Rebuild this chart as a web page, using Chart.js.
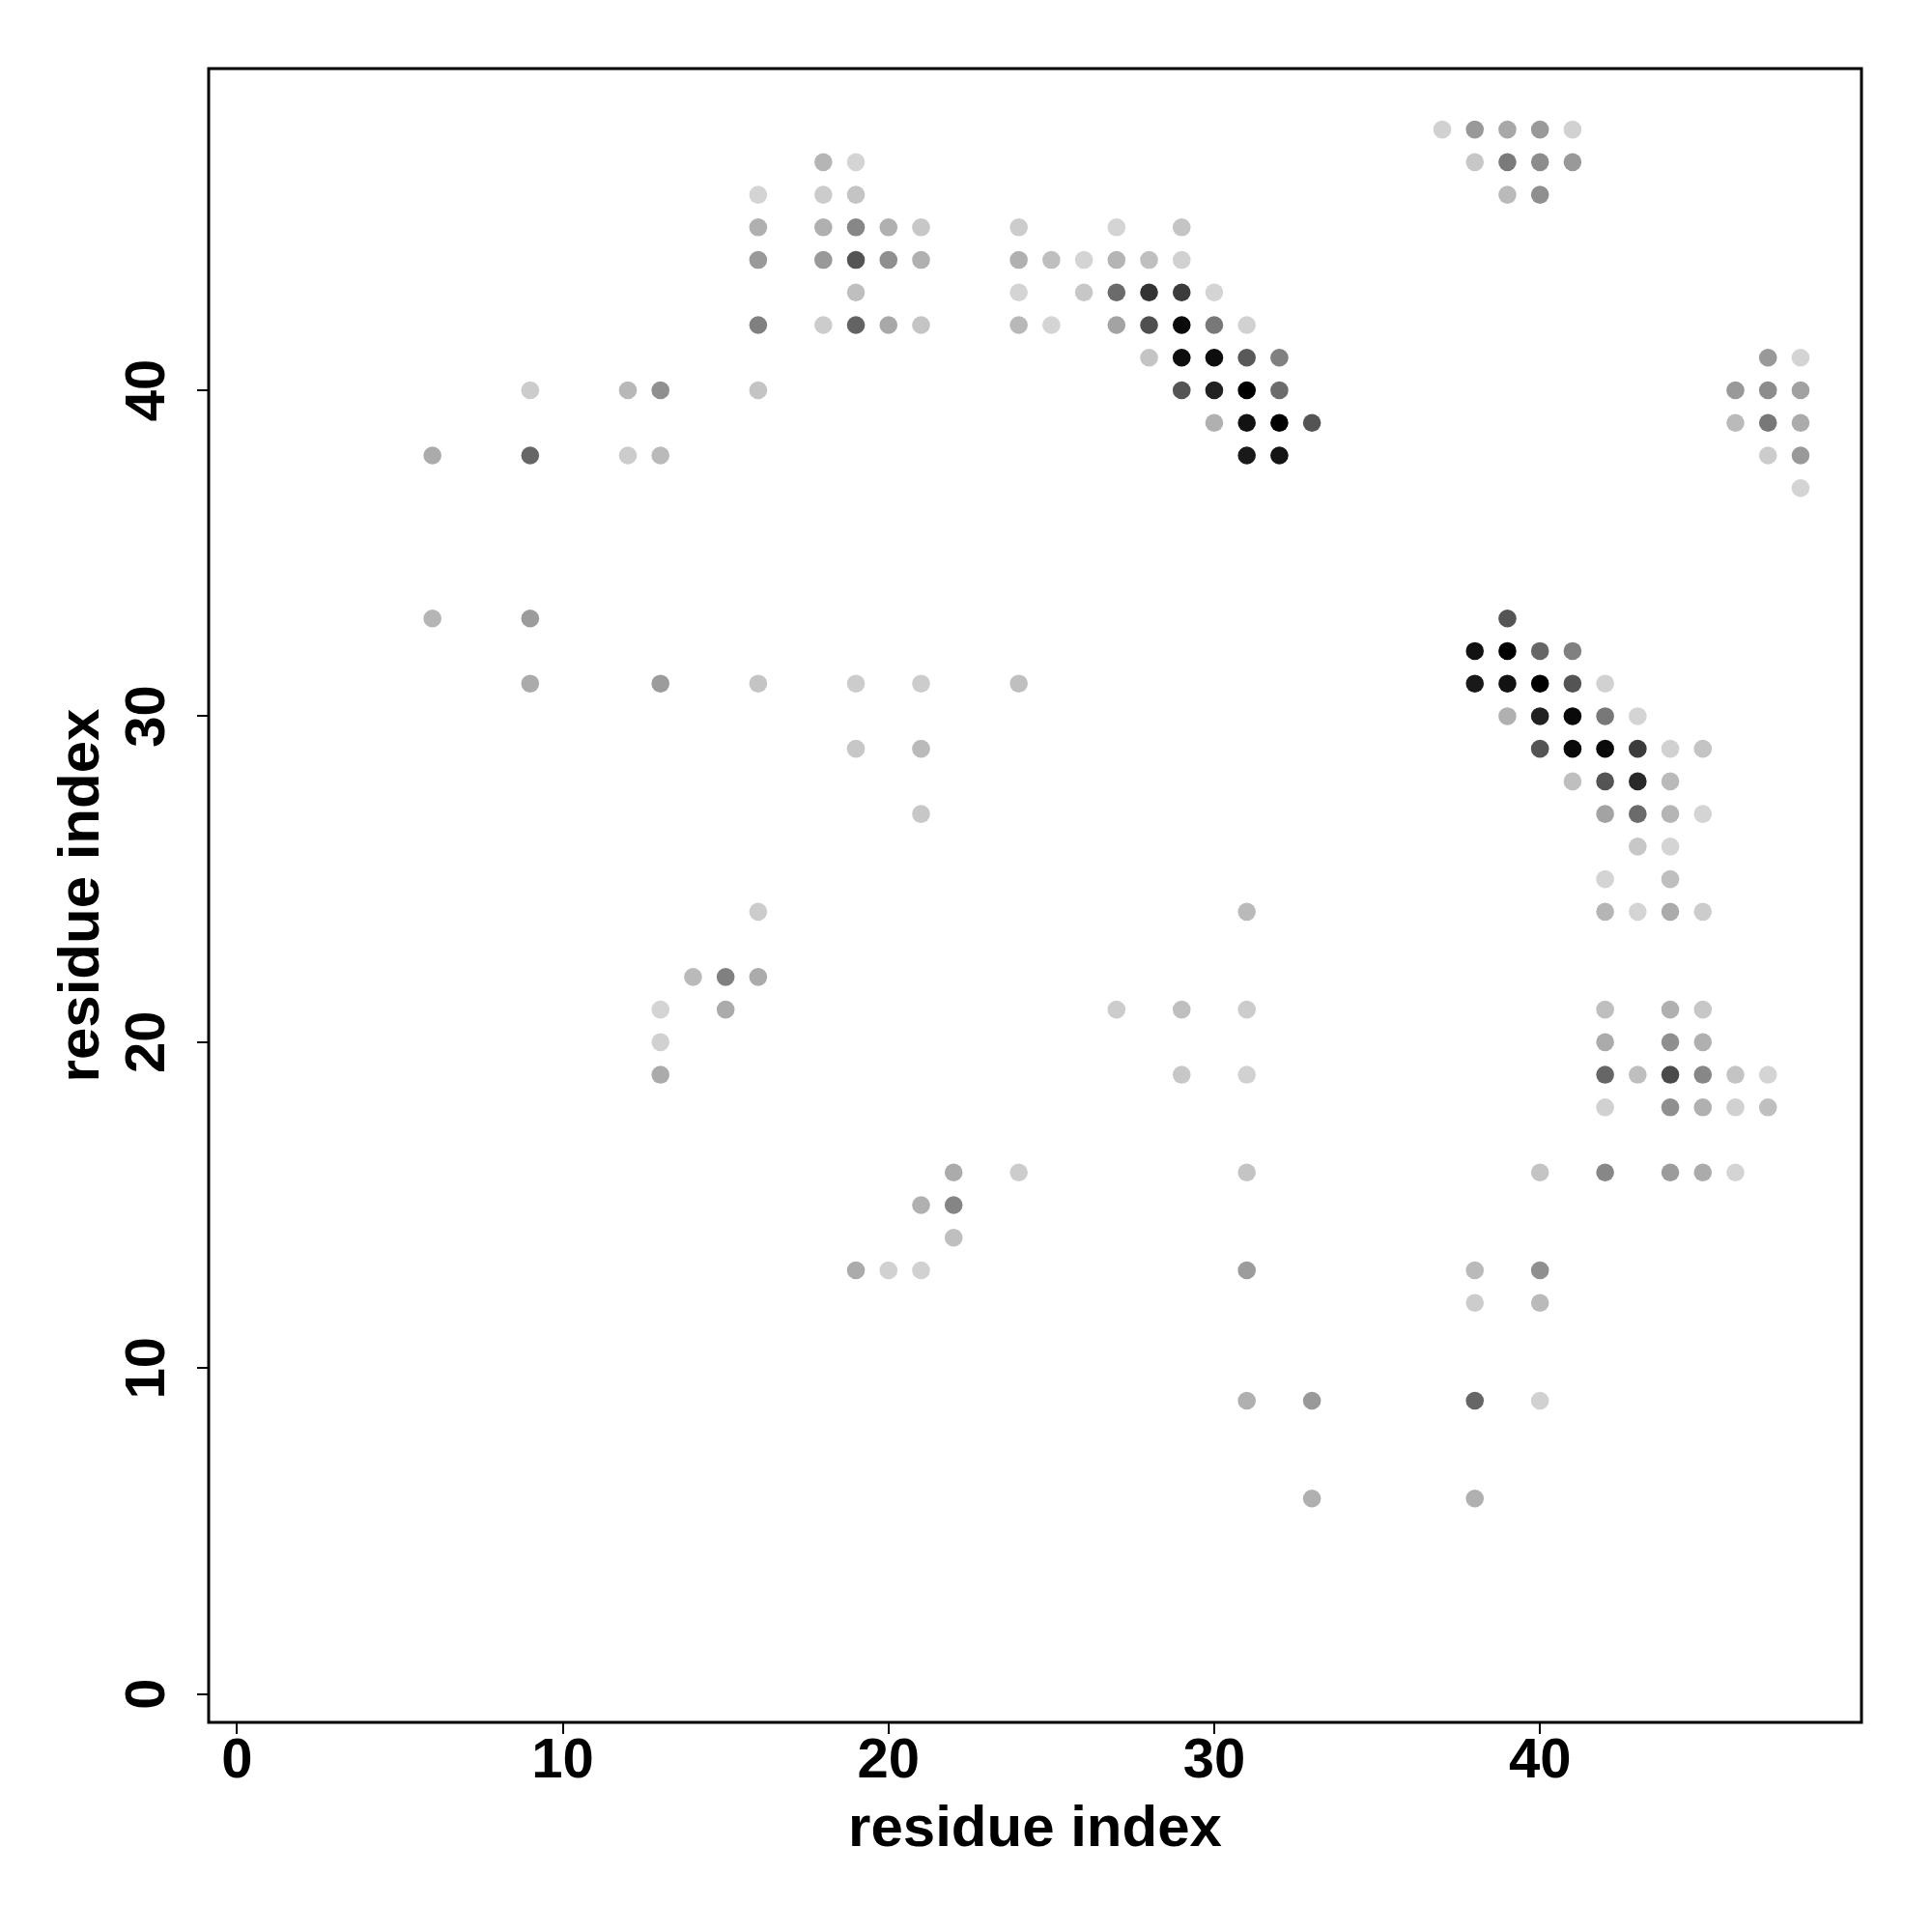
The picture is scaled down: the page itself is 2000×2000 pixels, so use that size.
<!DOCTYPE html>
<html>
<head>
<meta charset="utf-8">
<title>contact map</title>
<script src="https://cdn.jsdelivr.net/npm/chart.js@4.4.1/dist/chart.umd.min.js"></script>
<style>
    html, body { margin: 0; padding: 0; background: #fff; }
</style>
</head>
<body>
<canvas id="contactMap" width="2000" height="2000"></canvas>
<script>
// residue j (y) for each row, residues i (x) in that row, and contact probability of each dot
const rowResidue = [48, 47, 46, 45, 44, 43, 42, 41, 40, 39, 38, 37, 33, 32, 31, 30, 29, 28, 27, 26, 25, 24, 22, 21, 20, 19, 18, 16, 15, 14, 13, 12, 9, 6];

const rowPartners = [
    [37, 38, 39, 40, 41],
    [18, 19, 38, 39, 40, 41],
    [16, 18, 19, 39, 40],
    [16, 18, 19, 20, 21, 24, 27, 29],
    [16, 18, 19, 20, 21, 24, 25, 26, 27, 28, 29],
    [19, 24, 26, 27, 28, 29, 30],
    [16, 18, 19, 20, 21, 24, 25, 27, 28, 29, 30, 31],
    [28, 29, 30, 31, 32, 47, 48],
    [9, 12, 13, 16, 29, 30, 31, 32, 46, 47, 48],
    [30, 31, 32, 33, 46, 47, 48],
    [6, 9, 12, 13, 31, 32, 47, 48],
    [48],
    [6, 9, 39],
    [38, 39, 40, 41],
    [9, 13, 16, 19, 21, 24, 38, 39, 40, 41, 42],
    [39, 40, 41, 42, 43],
    [19, 21, 40, 41, 42, 43, 44, 45],
    [41, 42, 43, 44],
    [21, 42, 43, 44, 45],
    [43, 44],
    [42, 44],
    [16, 31, 42, 43, 44, 45],
    [14, 15, 16],
    [13, 15, 27, 29, 31, 42, 44, 45],
    [13, 42, 44, 45],
    [13, 29, 31, 42, 43, 44, 45, 46, 47],
    [42, 44, 45, 46, 47],
    [22, 24, 31, 40, 42, 44, 45, 46],
    [21, 22],
    [22],
    [19, 20, 21, 31, 38, 40],
    [38, 40],
    [31, 33, 38, 40],
    [33, 38]
];

const rowProb = [
    [0.18, 0.40, 0.34, 0.40, 0.18],
    [0.29, 0.17, 0.22, 0.52, 0.45, 0.40],
    [0.17, 0.20, 0.23, 0.27, 0.44],
    [0.31, 0.31, 0.47, 0.31, 0.22, 0.20, 0.17, 0.23],
    [0.40, 0.40, 0.67, 0.44, 0.31, 0.31, 0.25, 0.17, 0.29, 0.25, 0.18],
    [0.25, 0.17, 0.22, 0.58, 0.80, 0.77, 0.17],
    [0.50, 0.20, 0.61, 0.34, 0.23, 0.28, 0.17, 0.36, 0.69, 0.96, 0.53, 0.18],
    [0.23, 0.95, 0.95, 0.65, 0.50, 0.40, 0.17],
    [0.20, 0.28, 0.44, 0.23, 0.67, 0.87, 1.00, 0.58, 0.40, 0.45, 0.37],
    [0.31, 0.93, 1.00, 0.67, 0.27, 0.53, 0.33],
    [0.33, 0.60, 0.20, 0.27, 0.90, 0.92, 0.20, 0.40],
    [0.17],
    [0.29, 0.39, 0.67],
    [0.93, 1.00, 0.60, 0.50],
    [0.33, 0.39, 0.23, 0.20, 0.20, 0.25, 0.90, 0.93, 1.00, 0.67, 0.18],
    [0.31, 0.87, 0.96, 0.53, 0.17],
    [0.22, 0.27, 0.67, 0.96, 0.96, 0.77, 0.18, 0.23],
    [0.25, 0.67, 0.84, 0.27],
    [0.22, 0.36, 0.58, 0.29, 0.17],
    [0.22, 0.17],
    [0.17, 0.25],
    [0.20, 0.27, 0.29, 0.17, 0.33, 0.20],
    [0.27, 0.50, 0.33],
    [0.17, 0.33, 0.20, 0.25, 0.20, 0.25, 0.31, 0.22],
    [0.18, 0.33, 0.44, 0.31],
    [0.33, 0.22, 0.18, 0.60, 0.25, 0.71, 0.47, 0.23, 0.17],
    [0.18, 0.44, 0.31, 0.18, 0.25],
    [0.33, 0.20, 0.23, 0.23, 0.47, 0.39, 0.33, 0.17],
    [0.31, 0.48],
    [0.25],
    [0.33, 0.18, 0.18, 0.39, 0.27, 0.44],
    [0.20, 0.27],
    [0.31, 0.40, 0.60, 0.18],
    [0.31, 0.31]
];

const tickValues = [0, 10, 20, 30, 40];
const axisMin = -0.87;
const axisMax = 49.87;

const TICK_FONT = "bold 58px 'Liberation Sans', Arial, Helvetica, sans-serif";
const TITLE_FONT = "bold 60px 'Liberation Sans', Arial, Helvetica, sans-serif";


function probToGrey(p) {
    const g = Math.round(255 * (1 - p));
    return `rgb(${g},${g},${g})`;
}

const points = [];
const colors = [];
rowResidue.forEach((j, r) => {
    rowPartners[r].forEach((i, k) => {
        points.push({ x: i, y: j });
        colors.push(probToGrey(rowProb[r][k]));
    });
});


// box, tick labels and axis titles drawn the way R's base plot lays them out
const framePlugin = {
    id: "frame",
    afterDraw(chart) {
        const { ctx, chartArea } = chart;
        const xs = chart.scales.x;
        const ys = chart.scales.y;

        ctx.save();
        ctx.strokeStyle = "#000";
        ctx.lineWidth = 3;
        ctx.strokeRect(chartArea.left, chartArea.top,
            chartArea.right - chartArea.left, chartArea.bottom - chartArea.top);

        ctx.fillStyle = "#000";
        ctx.textAlign = "center";
        ctx.textBaseline = "alphabetic";

        ctx.font = TICK_FONT;
        tickValues.forEach(v => {
            ctx.fillText(String(v), xs.getPixelForValue(v), 1840);
        });
        tickValues.forEach(v => {
            ctx.save();
            ctx.translate(170, ys.getPixelForValue(v));
            ctx.rotate(-Math.PI / 2);
            ctx.fillText(String(v), 0, 0);
            ctx.restore();
        });

        ctx.font = TITLE_FONT;
        ctx.fillText("residue index", (chartArea.left + chartArea.right) / 2, 1911);

        ctx.save();
        ctx.translate(102, (chartArea.top + chartArea.bottom) / 2);
        ctx.rotate(-Math.PI / 2);
        ctx.fillText("residue index", 0, 0);
        ctx.restore();

        ctx.restore();
    }
};


const axisCommon = {
    type: "linear",
    min: axisMin,
    max: axisMax,
    afterBuildTicks: scale => {
        scale.ticks = tickValues.map(v => ({ value: v }));
    },
    ticks: { display: false },
    border: { display: false },
    grid: {
        display: true,
        drawOnChartArea: false,
        drawTicks: true,
        tickLength: 12,
        color: "#000",
        lineWidth: 2
    }
};

new Chart(document.getElementById("contactMap"), {
    type: "scatter",
    data: {
        datasets: [{
            data: points,
            pointBackgroundColor: colors,
            pointBorderWidth: 0,
            pointRadius: 9.3,
            pointHoverRadius: 9.3
        }]
    },
    options: {
        responsive: false,
        animation: false,
        devicePixelRatio: 1,
        layout: { padding: { left: 0, top: 71, right: 73, bottom: 0 } },
        plugins: {
            legend: { display: false },
            tooltip: { enabled: false }
        },
        scales: {
            x: {
                ...axisCommon,
                position: "bottom",
                afterFit: scale => { scale.height = 217; }
            },
            y: {
                ...axisCommon,
                position: "left",
                afterFit: scale => { scale.width = 216; }
            }
        }
    },
    plugins: [framePlugin]
});
</script>
</body>
</html>
